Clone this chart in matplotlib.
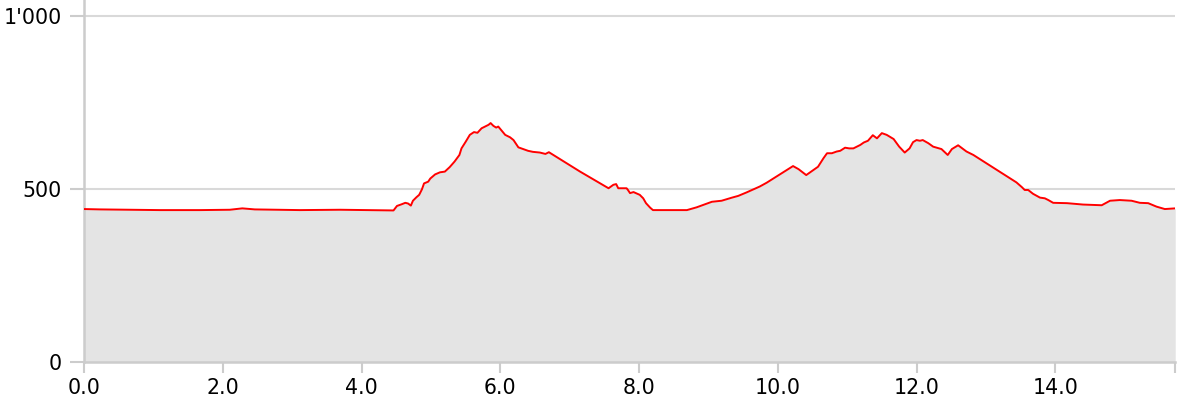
import matplotlib.pyplot as plt
from matplotlib.ticker import FuncFormatter

# elevation profile: distance (km) vs altitude (m)
dist = [0.00, 0.23, 0.66, 1.09, 1.67, 2.10, 2.28, 2.46, 3.11, 3.69, 4.12, 4.46,
        4.51, 4.58, 4.63, 4.67, 4.71, 4.74, 4.79, 4.83, 4.87, 4.90, 4.96, 4.99,
        5.06, 5.13, 5.20, 5.27, 5.34, 5.41, 5.44, 5.50, 5.56, 5.62, 5.67, 5.73,
        5.79, 5.83, 5.86, 5.90, 5.94, 5.97, 6.02, 6.07, 6.14, 6.19, 6.26, 6.33,
        6.40, 6.47, 6.57, 6.65, 6.70, 7.15, 7.56, 7.63, 7.67, 7.70, 7.82, 7.84,
        7.87, 7.92, 8.01, 8.06, 8.10, 8.16, 8.20, 8.69, 8.83, 8.97, 9.05, 9.19,
        9.34, 9.43, 9.55, 9.74, 9.84, 10.03, 10.22, 10.30, 10.41, 10.58, 10.66,
        10.71, 10.78, 10.85, 10.90, 10.97, 11.03, 11.09, 11.19, 11.24, 11.30,
        11.37, 11.43, 11.50, 11.57, 11.67, 11.75, 11.83, 11.90, 11.95, 12.00,
        12.05, 12.09, 12.17, 12.24, 12.36, 12.45, 12.51, 12.60, 12.72, 12.82,
        13.44, 13.52, 13.56, 13.61, 13.68, 13.78, 13.85, 13.90, 13.97, 14.17,
        14.40, 14.67, 14.79, 14.93, 15.10, 15.22, 15.34, 15.46, 15.58, 15.73]
elev = [442, 441, 440, 439, 439, 440, 444, 441, 439, 440, 439, 438,
        451, 456, 460, 458, 452, 466, 476, 483, 499, 516, 521, 530,
        542, 548, 550, 563, 579, 598, 617, 636, 656, 664, 662, 675,
        681, 685, 690, 682, 677, 680, 668, 656, 649, 641, 620, 615,
        610, 607, 605, 601, 606, 550, 502, 512, 514, 502, 502, 497,
        488, 491, 483, 473, 459, 446, 439, 439, 447, 457, 463, 466,
        475, 480, 490, 507, 518, 542, 566, 557, 540, 564, 589,
        603, 603, 608, 610, 619, 617, 617, 627, 634, 639,
        655, 646, 661, 656, 644, 622, 605, 617, 635, 641,
        639, 641, 632, 622, 615, 598, 615, 626, 608, 598,
        519, 505, 497, 497, 486, 475, 473, 468, 460, 459,
        455, 453, 466, 468, 466, 460, 459, 449, 442, 444]

x_ticks = [0, 2, 4, 6, 8, 10, 12, 14]
y_ticks = [0, 500, 1000]

fig = plt.figure(figsize=(11.77, 4.03), dpi=100)
ax = fig.add_axes([0.0715, 0.101, 0.927, 0.899])

ax.fill_between(dist, elev, 0, color='#e4e4e4', lw=0, zorder=2)
ax.plot(dist, elev, color='#ff0000', lw=1.4, zorder=3)

xmax = dist[-1]
ax.set_xlim(0, xmax)
ax.set_ylim(0, 1045)

ax.set_xticks(x_ticks + [xmax])
ax.set_xticklabels(['%.1f' % t for t in x_ticks] + [''])
ax.set_yticks(y_ticks)
ax.yaxis.set_major_formatter(FuncFormatter(lambda v, p: '{:,}'.format(int(v)).replace(',', "'")))

ax.grid(axis='y', color='#d9d9d9', lw=1.5, zorder=1)
ax.set_axisbelow(True)

for s in ['top', 'right']:
    ax.spines[s].set_visible(False)
for s in ['left', 'bottom']:
    ax.spines[s].set_color('#cccccc')
    ax.spines[s].set_linewidth(1.8)

ax.tick_params(axis='y', length=10, width=1.5, color='#cccccc', pad=6, labelsize=14.8)
ax.tick_params(axis='x', length=8, width=1.5, color='#cccccc', pad=3, labelsize=14.8)

fig.savefig('out.png', dpi=100)
